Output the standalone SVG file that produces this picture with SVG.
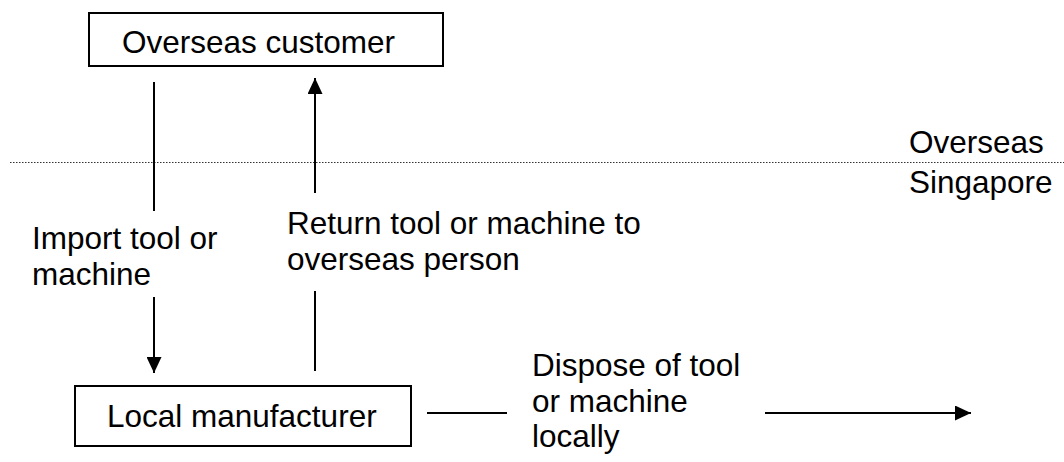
<svg xmlns="http://www.w3.org/2000/svg" width="1064" height="462" viewBox="0 0 1064 462">
<style>
.box{fill:#fff;stroke:#000;stroke-width:2}
.t{font-family:"Liberation Sans",Arial,sans-serif;font-size:31.5px;fill:#000}
.ln{stroke:#000;stroke-width:2;fill:none}
.dot{stroke:#333;stroke-width:1.2;stroke-dasharray:1.5 1.5;fill:none}
</style>
<defs>
<marker id="ah" markerWidth="16" markerHeight="15" refX="16" refY="7.5" orient="auto" markerUnits="userSpaceOnUse">
<path d="M0,0 L16,7.5 L0,15 Z" fill="#000"/>
</marker>
</defs>
<g id="region-divider">
<line class="dot" x1="10" y1="162.5" x2="1064" y2="162.5"/>
<text class="t" x="909" y="153">Overseas</text>
<text class="t" x="909" y="193">Singapore</text>
</g>
<g id="overseas-customer">
<rect class="box" x="89" y="13" width="354" height="53"/>
<text class="t" x="122" y="53">Overseas customer</text>
</g>
<g id="local-manufacturer">
<rect class="box" x="75" y="386" width="336" height="60"/>
<text class="t" x="107" y="427">Local manufacturer</text>
</g>
<g id="connectors">
<line class="ln" x1="154" y1="82" x2="154" y2="211"/>
<line class="ln" x1="154" y1="297" x2="154" y2="373" marker-end="url(#ah)"/>
<line class="ln" x1="315" y1="371" x2="315" y2="291"/>
<line class="ln" x1="315" y1="193" x2="315" y2="78" marker-end="url(#ah)"/>
<line class="ln" x1="427" y1="413" x2="507" y2="413"/>
<line class="ln" x1="765" y1="413" x2="971" y2="413" marker-end="url(#ah)"/>
</g>
<g id="labels">
<text class="t" x="32" y="249">Import tool or</text>
<text class="t" x="32" y="285">machine</text>
<text class="t" x="287" y="234">Return tool or machine to</text>
<text class="t" x="287" y="270">overseas person</text>
<text class="t" x="532" y="376">Dispose of tool</text>
<text class="t" x="532" y="412">or machine</text>
<text class="t" x="532" y="447">locally</text>
</g>
</svg>
